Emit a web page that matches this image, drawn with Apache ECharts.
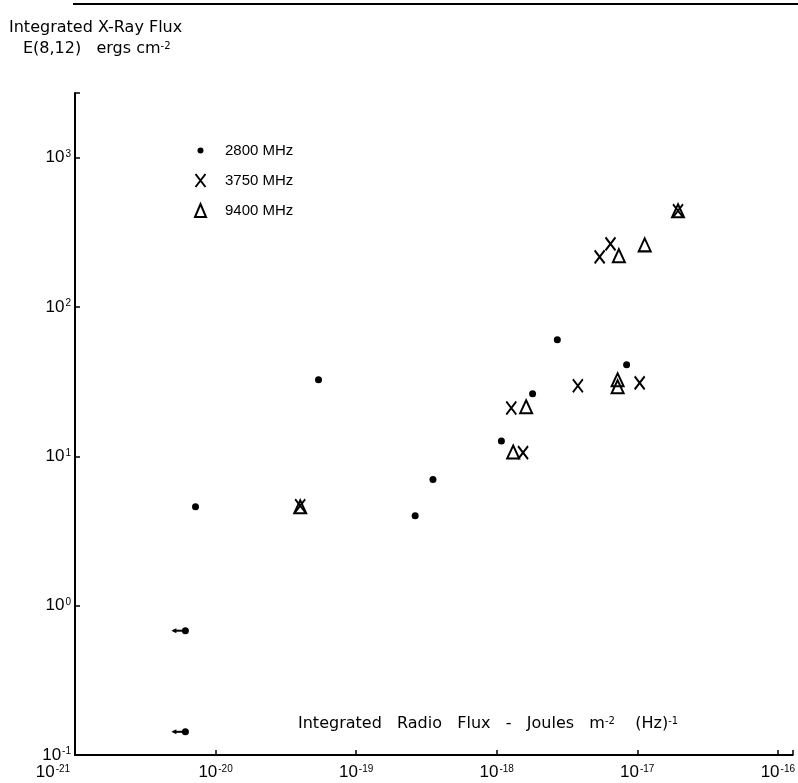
<!DOCTYPE html>
<html><head><meta charset="utf-8">
<script src="https://cdn.jsdelivr.net/npm/echarts@6/dist/echarts.min.js"></script>
<style>html,body{margin:0;padding:0;background:#fff}#c{width:798px;height:783px}#err{position:absolute;left:300px;top:300px;color:red;font:12px monospace}</style>
</head><body><div id="c"></div><div id="err"></div>
<script>
// ---- data ----
// Radio flux is stored in units of 1e-21 J m^-2 Hz^-1 (ECharts log axes round values below ~1e-10 to 0).
const RADIO_UNIT_EXP = -21;
const seriesNames = ['2800 MHz', '3750 MHz', '9400 MHz'];
const mhz2800X = [7.2, 54, 352, 263, 1080, 1800, 2700, 8400];
const mhz2800Y = [4.6, 32.6, 7.0, 4.0, 12.7, 26.3, 60.4, 41.1];
const limit2800X = [6.1, 6.1];   // upper limits (arrow to the left)
const limit2800Y = [0.68, 0.143];
const mhz3750X = [40, 1270, 1540, 3780, 10400, 5400, 6450, 19500];
const mhz3750Y = [4.67, 21.1, 10.6, 29.7, 31.1, 217, 265, 442];
const mhz9400X = [40, 1310, 1620, 7250, 7250, 7400, 11300, 19500];
const mhz9400Y = [4.6, 10.7, 21.5, 32.6, 29.3, 221, 261, 442];
const xRange = [1, Math.pow(10, 5.106)];
const yRange = [0.1, Math.pow(10, 3.434)];
const xTickExponents = ['-21', '-20', '-19', '-18', '-17', '-16'];
const yTickExponents = ['-1', '0', '1', '2', '3'];

window.onerror = function (m) { document.getElementById('err').textContent = m; };

const zip = (xs, ys) => xs.map((x, i) => [x, ys[i]]);
const FONT = '"DejaVu Sans", sans-serif';
const LFONT = '"Liberation Sans", Arial, sans-serif';
const INK = '#000';

function isDecade(v) {
  const l = Math.log10(v);
  return Math.abs(l - Math.round(l)) < 1e-6;
}

const tickRich = {
  b: { fontSize: 17, fontFamily: LFONT, color: INK },
  s: { fontSize: 10, fontFamily: LFONT, color: INK, verticalAlign: 'top', padding: [0, 0, 0, 1] },
  g: { width: 44 }
};

const chart = echarts.init(document.getElementById('c'), null, { renderer: 'canvas' });

const option = {
  backgroundColor: '#fff',
  animation: false,
  grid: { left: 75, right: 0, top: 93, bottom: 28, containLabel: false },
  xAxis: {
    type: 'log', min: xRange[0], max: xRange[1],
    axisLine: { show: true, lineStyle: { color: INK, width: 2 } },
    axisTick: { show: true, inside: true, length: 5, lineStyle: { color: INK, width: 1.5 } },
    minorTick: { show: false },
    splitLine: { show: false },
    axisLabel: {
      margin: 9,
      formatter: function (v) {
        if (!isDecade(v)) return '';
        const e = String(Math.round(Math.log10(v)) + RADIO_UNIT_EXP);
        if (xTickExponents.indexOf(e) < 0) return '';
        if (e === xTickExponents[0]) return '{b|10}{s|' + e + '}{g|}';
        return '{b|10}{s|' + e + '}';
      },
      rich: tickRich
    }
  },
  yAxis: {
    type: 'log', min: yRange[0], max: yRange[1],
    axisLine: { show: true, lineStyle: { color: INK, width: 2 } },
    axisTick: { show: true, inside: true, length: 5, lineStyle: { color: INK, width: 1.5 } },
    splitLine: { show: false },
    axisLabel: {
      margin: 4,
      formatter: function (v) {
        if (!isDecade(v)) return '';
        const e = String(Math.round(Math.log10(v)));
        if (yTickExponents.indexOf(e) < 0) return '';
        return '{b|10}{s|' + e + '}';
      },
      rich: tickRich
    }
  },
  legend: {
    orient: 'vertical', left: 189, top: 138, itemGap: 15,
    itemWidth: 13, itemHeight: 13,
    textStyle: { fontSize: 15, fontFamily: LFONT, color: INK, padding: [0, 0, 0, 13] },
    data: [
      { name: seriesNames[0], icon: 'path://M0,0M13,13M3.5,6.5a3,3 0 1,0 6,0a3,3 0 1,0 -6,0z',
        itemStyle: { color: INK, borderWidth: 0, opacity: 1 } },
      { name: seriesNames[1], icon: 'path://M1.5,0L11.5,13M11.5,0L1.5,13',
        itemStyle: { color: 'transparent', borderColor: INK, borderWidth: 2, opacity: 1 } },
      { name: seriesNames[2], icon: 'path://M6.5,0L12,13L1,13Z',
        itemStyle: { color: 'transparent', borderColor: INK, borderWidth: 2, opacity: 1 } }
    ]
  },
  graphic: [
    { type: 'line', shape: { x1: 73, y1: 4, x2: 798, y2: 4 }, style: { stroke: INK, lineWidth: 2 } },
    { type: 'text', left: 9, top: 20, style: { text: 'Integrated X-Ray Flux', font: '16px ' + FONT, fill: INK } },
    { type: 'text', left: 23, top: 41, style: {
        text: 'E(8,12)   ergs cm{s|-2}', font: '16px ' + FONT, fill: INK,
        rich: { s: { fontSize: 10, fontFamily: FONT, fill: INK, verticalAlign: 'top' } } } },
    { type: 'text', left: 298, top: 716, style: {
        text: 'Integrated   Radio   Flux   -   Joules   m{s|-2}    (Hz){s|-1}', font: '16px ' + FONT, fill: INK,
        rich: { s: { fontSize: 10, fontFamily: FONT, fill: INK, verticalAlign: 'top' } } } }
  ],
  series: [
    {
      name: seriesNames[0], type: 'scatter',
      data: zip(mhz2800X, mhz2800Y).concat(zip(limit2800X, limit2800Y)),
      symbol: 'circle', symbolSize: 7,
      itemStyle: { color: INK, opacity: 1 }
    },
    {
      name: seriesNames[1], type: 'scatter', data: zip(mhz3750X, mhz3750Y),
      symbol: 'path://M0,0L10,13M10,0L0,13', symbolSize: [10, 13],
      itemStyle: { color: 'transparent', borderColor: INK, borderWidth: 2, opacity: 1 }
    },
    {
      name: seriesNames[2], type: 'scatter', data: zip(mhz9400X, mhz9400Y),
      symbol: 'triangle', symbolSize: [12, 13],
      itemStyle: { color: 'transparent', borderColor: INK, borderWidth: 2, opacity: 1 }
    },
    {
      name: 'upper-limit arrows', type: 'custom', data: zip(limit2800X, limit2800Y),
      silent: true,
      renderItem: function (params, api) {
        const p = api.coord([api.value(0), api.value(1)]);
        return {
          type: 'group',
          children: [
            { type: 'line', shape: { x1: p[0] - 12, y1: p[1], x2: p[0], y2: p[1] },
              style: { stroke: INK, lineWidth: 2 } },
            { type: 'polygon', shape: { points: [[p[0] - 14, p[1]], [p[0] - 9, p[1] - 2.5], [p[0] - 9, p[1] + 2.5]] },
              style: { fill: INK } }
          ]
        };
      }
    }
  ]
};
chart.setOption(option);
</script>
</body></html>
